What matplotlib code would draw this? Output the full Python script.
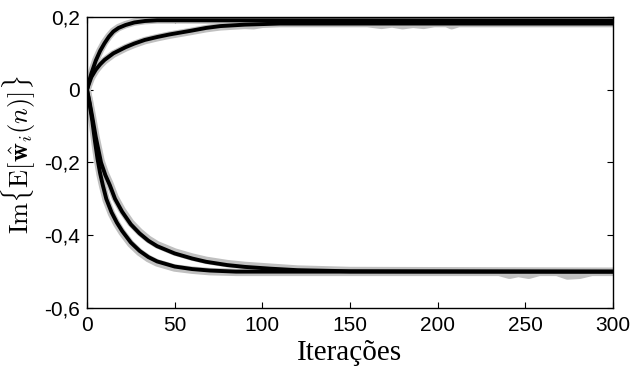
import matplotlib
matplotlib.use("Agg")
import matplotlib.pyplot as plt

# ---- data ----
n_up_fast = [0, 1, 2.5, 5, 7.5, 10, 12.5, 15, 18, 22, 27, 33, 40, 50, 300]
w_up_fast = [0, 0.02, 0.045, 0.08, 0.107, 0.128, 0.146, 0.16, 0.17, 0.178, 0.185, 0.189, 0.191, 0.191, 0.19]

n_up_slow = [0, 1, 2.5, 5, 7.5, 10, 15, 22, 27, 33, 40, 47, 59, 68, 76, 90, 110, 300]
w_up_slow = [0, 0.015, 0.035, 0.055, 0.07, 0.082, 0.1, 0.117, 0.127, 0.137, 0.145, 0.152, 0.162, 0.17, 0.175, 0.179, 0.182, 0.182]

n_lo_fast = [0, 1.5, 3, 4.5, 6, 7.5, 9, 11, 14, 17, 20, 25, 30, 35, 40, 50, 60, 70, 85, 300]
w_lo_fast = [0, -0.04, -0.085, -0.14, -0.19, -0.23, -0.262, -0.3, -0.337, -0.365, -0.388, -0.42, -0.443, -0.46, -0.472, -0.486, -0.493, -0.497, -0.5, -0.5]

n_lo_slow = [0, 1.5, 3, 5, 8, 10.5, 13, 16, 20, 25, 30, 35, 40, 50, 60, 68, 80, 90, 105, 120, 150, 300]
w_lo_slow = [0, -0.035, -0.075, -0.13, -0.2, -0.235, -0.262, -0.3, -0.335, -0.37, -0.395, -0.415, -0.43, -0.45, -0.464, -0.473, -0.482, -0.487, -0.492, -0.496, -0.499, -0.5]

# simulated (gray) curves
s_up_fast_n = [0, 1, 2.5, 5, 7.5, 10, 12.5, 15, 18, 22, 27, 33, 40, 50, 120, 150, 300]
s_up_fast_w = [0, 0.021, 0.046, 0.081, 0.108, 0.13, 0.147, 0.161, 0.171, 0.179, 0.186, 0.19, 0.192, 0.192, 0.191, 0.19, 0.19]

s_up_slow_n = [0, 1, 2.5, 5, 7.5, 10, 15, 22, 27, 33, 40, 47, 59, 68, 76, 90, 95, 100, 110, 160, 168, 174, 180, 186, 192, 198, 205, 208, 212, 300]
s_up_slow_w = [0, 0.014, 0.033, 0.053, 0.068, 0.08, 0.098, 0.115, 0.125, 0.135, 0.143, 0.15, 0.16, 0.168, 0.173, 0.177, 0.176, 0.18, 0.182, 0.182, 0.177, 0.181, 0.176, 0.18, 0.177, 0.182, 0.182, 0.176, 0.182, 0.182]

s_lo_fast_n = [0, 1.5, 3, 4.5, 6, 7.5, 9, 11, 14, 17, 20, 25, 30, 35, 40, 50, 60, 70, 85, 235, 241, 246, 252, 258, 268, 274, 281, 288, 300]
s_lo_fast_w = [0, -0.042, -0.088, -0.143, -0.193, -0.234, -0.266, -0.304, -0.341, -0.369, -0.392, -0.424, -0.447, -0.464, -0.476, -0.49, -0.496, -0.5, -0.502, -0.502, -0.51, -0.505, -0.51, -0.502, -0.502, -0.512, -0.51, -0.502, -0.502]

s_lo_slow_n = [0, 1.5, 3, 5, 8, 10.5, 13, 16, 20, 25, 30, 35, 40, 50, 60, 68, 80, 90, 105, 120, 150, 300]
s_lo_slow_w = [0, -0.033, -0.072, -0.127, -0.196, -0.231, -0.258, -0.296, -0.331, -0.366, -0.391, -0.411, -0.426, -0.446, -0.46, -0.469, -0.478, -0.483, -0.488, -0.493, -0.497, -0.499]

xticks = [0, 50, 100, 150, 200, 250, 300]
yticks = [-0.6, -0.4, -0.2, 0, 0.2]
yticklabels = ["-0,6", "-0,4", "-0,2", "0", "0,2"]

# ---- figure ----
plt.rcParams['mathtext.fontset'] = 'cm'
fig = plt.figure(figsize=(6.33, 3.8), dpi=100)
ax = fig.add_axes([87/633, 72/380, 526/633, 291/380])

gray = '#c0c0c0'
for nn, ww in [(s_up_fast_n, s_up_fast_w), (s_up_slow_n, s_up_slow_w),
               (s_lo_fast_n, s_lo_fast_w), (s_lo_slow_n, s_lo_slow_w)]:
    ax.plot(nn, ww, color=gray, lw=5.4, solid_joinstyle='round', solid_capstyle='butt')
for nn, ww in [(n_up_fast, w_up_fast), (n_up_slow, w_up_slow),
               (n_lo_fast, w_lo_fast), (n_lo_slow, w_lo_slow)]:
    ax.plot(nn, ww, color='black', lw=2.8, solid_joinstyle='round', solid_capstyle='butt')

ax.set_xlim(0, 300)
ax.set_ylim(-0.6, 0.2)
ax.set_xticks(xticks)
ax.set_xticklabels([str(t) for t in xticks], family='Liberation Sans', fontsize=15)
ax.set_yticks(yticks)
ax.set_yticklabels(yticklabels, family='Liberation Sans', fontsize=15)
ax.tick_params(direction='in', length=4, width=0.8, top=True, right=True)
ax.tick_params(axis='x', pad=6)
ax.tick_params(axis='y', pad=5)
for s in ax.spines.values():
    s.set_linewidth(1.0)

ax.set_xlabel('Iterações', family='Liberation Serif', fontsize=21, labelpad=3)
ax.set_ylabel(r'$\mathrm{Im}\{\mathrm{E}[\hat{\mathbf{w}}_i(n)]\}$', fontsize=19)
ax.yaxis.set_label_coords(-0.093, 0.525)

fig.savefig('out.png', dpi=100)
